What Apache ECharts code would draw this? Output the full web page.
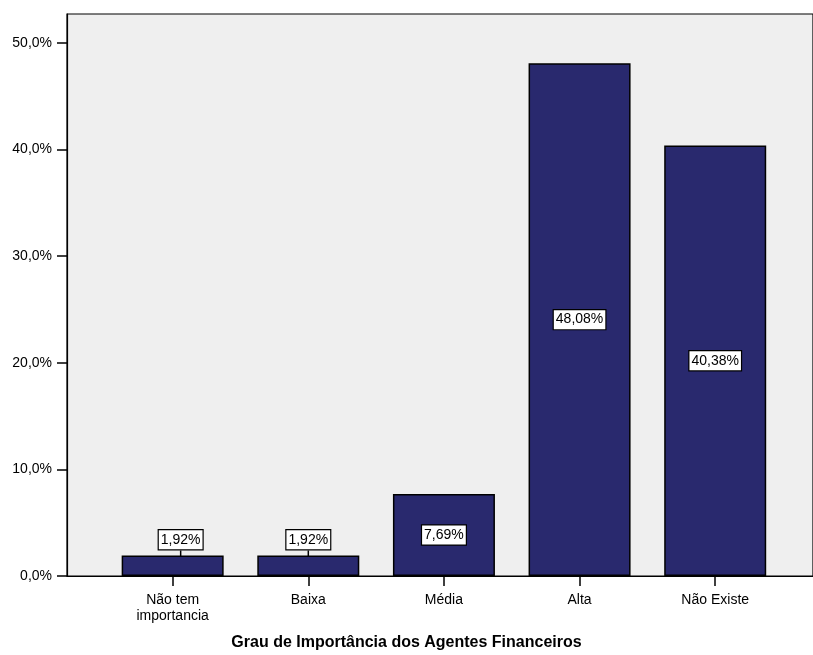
<!DOCTYPE html>
<html>
<head>
<meta charset="utf-8">
<script src="https://cdn.jsdelivr.net/npm/echarts@6/dist/echarts.min.js"></script>
<style>
  html, body { margin: 0; padding: 0; background: #ffffff; }
  #chart { width: 813px; height: 655px; }
</style>
</head>
<body>
<div id="chart"></div>
<script>
// Grau de Importância dos Agentes Financeiros — percent of respondents
const categories = ['Não tem\nimportancia', 'Baixa', 'Média', 'Alta', 'Não Existe'];
const percents = [1.92, 1.92, 7.69, 48.08, 40.38];
const yTicks = [0, 10, 20, 30, 40, 50];
const axisTitle = 'Grau de Importância dos Agentes Financeiros';

const font = '"Liberation Sans", Arial, Helvetica, sans-serif';
const fmtPct = (v, d) => v.toFixed(d).replace('.', ',') + '%';

// short bars carry their label above, tied back with a leader line
const labelShift = [{ dx: 8, dy: -26 }, { dx: 0, dy: -26 }];

const chart = echarts.init(document.getElementById('chart'), null, { renderer: 'canvas' });

chart.setOption({
  animation: false,
  backgroundColor: '#ffffff',
  title: {
    text: axisTitle,
    left: 'center',
    top: 634,
    padding: 0,
    textStyle: { color: '#000000', fontFamily: font, fontSize: 16, fontWeight: 'bold', lineHeight: 18 }
  },
  grid: {
    left: 67, right: -2, top: 14, bottom: 79,
    show: true, backgroundColor: '#efefef',
    borderColor: '#000000', borderWidth: 1.2
  },
  xAxis: {
    type: 'value',
    min: -0.779, max: 4.721,
    splitLine: { show: false },
    axisLine: { show: true, onZero: false, lineStyle: { color: '#000000', width: 1.2 } },
    axisTick: { show: true, length: 10, customValues: categories.map((c, i) => i), lineStyle: { color: '#000000', width: 1.5 } },
    axisLabel: {
      customValues: categories.map((c, i) => i),
      formatter: v => categories[Math.round(v)],
      color: '#000000', fontFamily: font, fontSize: 14, lineHeight: 16, margin: 16
    }
  },
  yAxis: {
    type: 'value',
    min: 0, max: 52.7,
    interval: 10,
    splitLine: { show: false },
    axisLine: { show: true, onZero: false, lineStyle: { color: '#000000', width: 1.2 } },
    axisTick: { show: true, length: 10, customValues: yTicks, lineStyle: { color: '#000000', width: 1.5 } },
    axisLabel: {
      customValues: yTicks,
      formatter: v => fmtPct(v, 1),
      color: '#000000', fontFamily: font, fontSize: 14, margin: 15
    }
  },
  series: [{
    type: 'bar',
    barWidth: 102,
    data: percents.map((v, i) => [i, v]),
    itemStyle: { color: '#29296e', borderColor: '#000000', borderWidth: 1.5 },
    label: {
      show: true,
      position: 'inside',
      formatter: p => fmtPct(p.value[1], 2),
      color: '#000000', fontFamily: font, fontSize: 14,
      backgroundColor: '#ffffff', borderColor: '#000000', borderWidth: 1.2,
      padding: [3, 2, 2, 2]
    },
    labelLine: { show: true, lineStyle: { color: '#000000', width: 1.5 } },
    labelLayout: p => {
      const s = labelShift[p.dataIndex];
      return s ? { dx: s.dx, dy: s.dy } : {};
    }
  }]
});
</script>
</body>
</html>
